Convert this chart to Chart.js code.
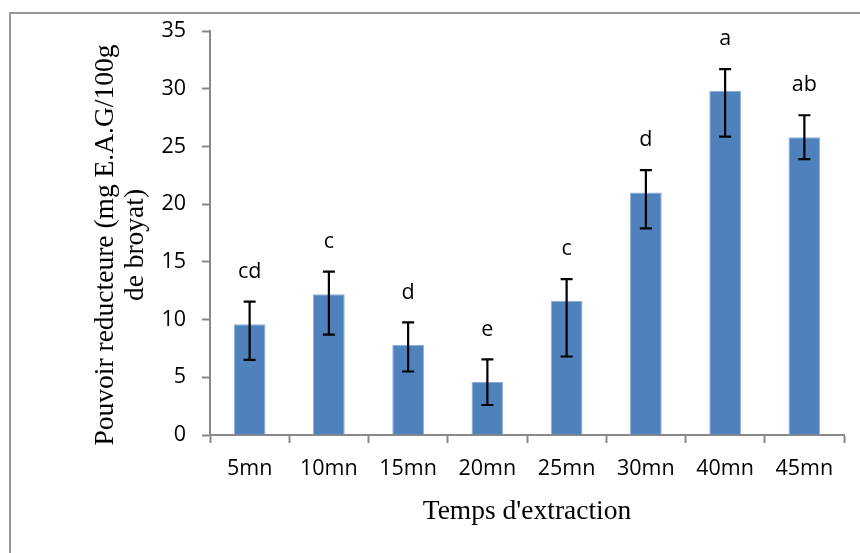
<!DOCTYPE html>
<html>
<head>
<meta charset="utf-8">
<script src="https://cdn.jsdelivr.net/npm/chart.js@4"></script>
<style>
  html, body { margin: 0; padding: 0; background: #ffffff; }
  #wrap { position: relative; width: 860px; height: 553px; }
</style>
</head>
<body>
<div id="wrap"><canvas id="chart" width="860" height="553"></canvas></div>
<script>
// Data
const categories = ["5mn", "10mn", "15mn", "20mn", "25mn", "30mn", "40mn", "45mn"]
const values = [9.6, 12.2, 7.8, 4.6, 11.6, 21.0, 29.8, 25.8]
const errPlus = [1.95, 1.95, 1.95, 1.95, 1.9, 1.95, 1.9, 1.9]
const errMinus = [3.1, 3.5, 2.3, 2.0, 4.8, 3.1, 3.95, 1.9]
const letters = ["cd", "c", "d", "e", "c", "d", "a", "ab"]
const yTicks = [0, 5, 10, 15, 20, 25, 30, 35]

const axisColor = "#888888"
const tickFont = { family: "'Open Sans', sans-serif", size: 21.5 }
const serif = "'Liberation Serif', 'Times New Roman', serif"

// Error bars + significance letters
const errorBars = {
  id: "errorBars",
  afterDatasetsDraw(chart) {
    const ctx = chart.ctx
    const y = chart.scales.y
    const meta = chart.getDatasetMeta(0)
    ctx.save()
    ctx.strokeStyle = "#000000"
    ctx.lineWidth = 2.2
    ctx.fillStyle = "#000000"
    ctx.font = "21.5px 'Open Sans', sans-serif"
    ctx.textAlign = "center"
    ctx.textBaseline = "middle"
    meta.data.forEach((bar, i) => {
      const top = y.getPixelForValue(values[i] + errPlus[i])
      const bottom = y.getPixelForValue(values[i] - errMinus[i])
      ctx.beginPath()
      ctx.moveTo(bar.x, top)
      ctx.lineTo(bar.x, bottom)
      ctx.moveTo(bar.x - 6, top)
      ctx.lineTo(bar.x + 6, top)
      ctx.moveTo(bar.x - 6, bottom)
      ctx.lineTo(bar.x + 6, bottom)
      ctx.stroke()
      ctx.fillText(letters[i], bar.x, top - 30)
    })
    ctx.restore()
  },
}

// Axis titles and outer frame
const decorations = {
  id: "decorations",
  afterDraw(chart) {
    const ctx = chart.ctx
    const area = chart.chartArea
    ctx.save()
    ctx.strokeStyle = "#999999"
    ctx.lineWidth = 2
    ctx.beginPath()
    ctx.moveTo(10, 560)
    ctx.lineTo(10, 13)
    ctx.lineTo(870, 13)
    ctx.stroke()

    ctx.fillStyle = "#000000"
    ctx.font = "27.5px " + serif
    ctx.textAlign = "center"
    ctx.textBaseline = "alphabetic"
    ctx.fillText("Temps d'extraction", (area.left + area.right) / 2, 519)

    ctx.translate(113, 245)
    ctx.rotate(-Math.PI / 2)
    ctx.fillText("Pouvoir reducteure (mg E.A.G/100g", 0, 0)
    ctx.fillText("de broyat)", 0, 30)
    ctx.restore()
  },
}

new Chart(document.getElementById("chart"), {
  type: "bar",
  data: {
    labels: categories,
    datasets: [
      {
        data: values,
        backgroundColor: "#4F81BD",
        borderColor: "#8DAFD9",
        borderWidth: 1,
        categoryPercentage: 1,
        barPercentage: 0.4,
      },
    ],
  },
  options: {
    responsive: false,
    animation: false,
    layout: { padding: { left: 0, top: 31, right: 16, bottom: 0 } },
    plugins: {
      legend: { display: false },
      tooltip: { enabled: false },
    },
    scales: {
      x: {
        afterFit: (scale) => { scale.height = 118 },
        border: { color: axisColor, width: 2 },
        grid: { drawOnChartArea: false, drawTicks: true, tickLength: 8, tickColor: axisColor, tickWidth: 2 },
        ticks: { color: "#000000", font: tickFont, padding: 13, maxRotation: 0 },
      },
      y: {
        min: 0,
        max: 35,
        afterFit: (scale) => { scale.width = 210 },
        afterBuildTicks: (scale) => { scale.ticks = yTicks.map((v) => ({ value: v })) },
        border: { color: axisColor, width: 2 },
        grid: { drawOnChartArea: false, drawTicks: true, tickLength: 8, tickColor: axisColor, tickWidth: 2 },
        ticks: { color: "#000000", font: tickFont, padding: 16 },
      },
    },
  },
  plugins: [errorBars, decorations],
})
</script>
</body>
</html>
